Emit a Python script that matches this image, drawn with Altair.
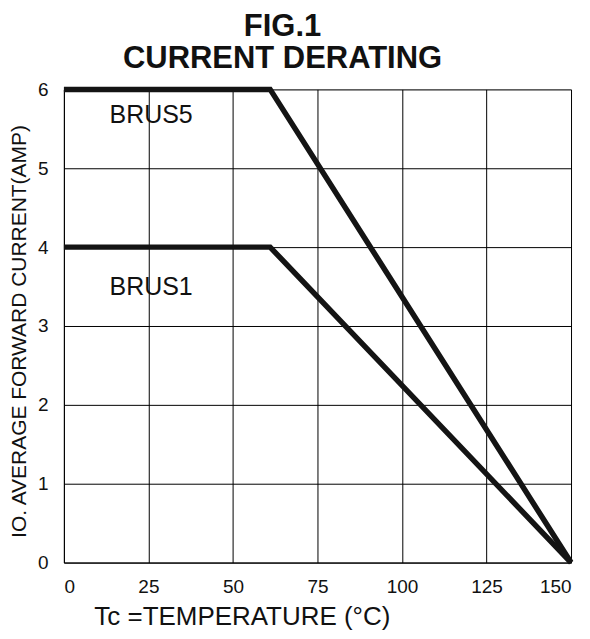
import altair as alt
import pandas as pd

# Data
series = ["BRUS5", "BRUS1"]
temps_brus5 = [0, 61, 150]
amps_brus5 = [6, 6, 0]
temps_brus1 = [0, 61, 150]
amps_brus1 = [4, 4, 0]
label_x = [13.5, 13.5]
label_y = [5.68, 3.49]
x_ticks = [0, 25, 50, 75, 100, 125, 150]
y_ticks = [0, 1, 2, 3, 4, 5, 6]

rows = []
for s, xs, ys in [("BRUS5", temps_brus5, amps_brus5), ("BRUS1", temps_brus1, amps_brus1)]:
    for i, (xv, yv) in enumerate(zip(xs, ys)):
        rows.append({"series": s, "temp": xv, "amp": yv, "order": i})
lines_df = pd.DataFrame(rows)
labels_df = pd.DataFrame({"label": series, "temp": label_x, "amp": label_y})

FONT = "Liberation Sans"
INK = "#111111"

x_scale = alt.Scale(domain=[0, 150], nice=False, zero=False)
y_scale = alt.Scale(domain=[0, 6], nice=False)

x_axis = alt.Axis(
    values=x_ticks, format="d", grid=True, gridColor="#000000", gridWidth=1, gridOpacity=1,
    ticks=False, domainColor="#000000", domainWidth=1,
    labelFont=FONT, labelFontSize=19, labelColor=INK, labelPadding=15,
    title="Tc =TEMPERATURE (°C)", titleFont=FONT, titleFontSize=26,
    titleFontWeight="normal", titleColor=INK,
    titleAlign="left", titleAnchor="start", titleX=30, titleY=62, titleBaseline="alphabetic",
)
y_axis = alt.Axis(
    values=y_ticks, format="d", grid=True, gridColor="#000000", gridWidth=1, gridOpacity=1,
    ticks=False, domainColor="#000000", domainWidth=1,
    labelFont=FONT, labelFontSize=19, labelColor=INK, labelPadding=16,
    title="IO. AVERAGE FORWARD CURRENT(AMP)", titleFont=FONT, titleFontSize=21,
    titleFontWeight="normal", titleColor=INK,
    titleAngle=270, titleAlign="center", titleX=-44, titleY=242, titleBaseline="middle",
)

lines = alt.Chart(lines_df).mark_line(strokeWidth=5.5, color="#141414", strokeJoin="miter").encode(
    x=alt.X("temp:Q", scale=x_scale, axis=x_axis),
    y=alt.Y("amp:Q", scale=y_scale, axis=y_axis),
    detail="series:N",
    order="order:Q",
)

labels = alt.Chart(labels_df).mark_text(
    align="left", baseline="middle", font=FONT, fontSize=25, color=INK
).encode(
    x=alt.X("temp:Q", scale=x_scale),
    y=alt.Y("amp:Q", scale=y_scale),
    text="label:N",
)

chart = alt.layer(lines, labels).properties(
    width=508,
    height=474,
    padding={"top": 3, "left": 0, "right": 0, "bottom": 0},
    title=alt.TitleParams(
        text=["FIG.1", "CURRENT DERATING"], font=FONT, fontSize=31, fontWeight="bold",
        color=INK, lineHeight=32, anchor="middle", frame="group", dx=-35, offset=3,
    ),
).configure_view(stroke="#000000", strokeWidth=1).configure(background="white")

chart.save("out.html", embed_options={"renderer": "svg", "actions": False})
